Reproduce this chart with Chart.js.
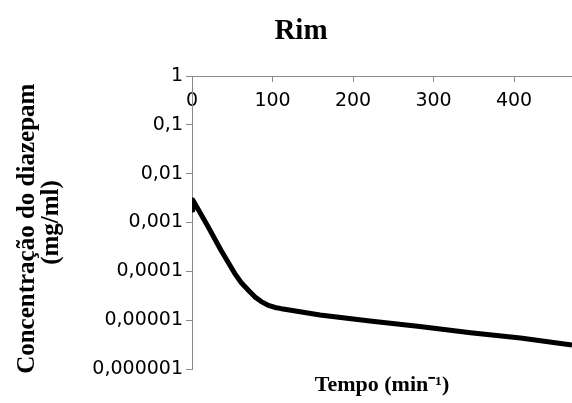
<!DOCTYPE html>
<html>
<head>
<meta charset="utf-8">
<title>Rim</title>
<script src="https://cdn.jsdelivr.net/npm/chart.js@4"></script>
<style>
  html, body { margin: 0; padding: 0; background: #fff; }
  canvas { display: block; }
</style>
</head>
<body>
<canvas id="chart" width="572" height="403"></canvas>
<script>
// Data
const tempo = [0, 1, 20, 36, 53, 61, 70, 78, 86, 94, 103, 111, 119, 159, 221, 283, 346, 408, 472];
const concentracao = [0.0018, 0.0029, 0.00082, 0.00027, 0.000091, 0.000059, 0.000041, 0.000030,
  0.000024, 0.0000204, 0.0000182, 0.0000172, 0.0000164, 0.0000128, 0.0000096, 0.0000074,
  0.0000055, 0.0000043, 0.0000031];
const xTickValues = [0, 100, 200, 300, 400];
const yTickValues = [0.000001, 0.00001, 0.0001, 0.001, 0.01, 0.1, 1];
const yTickLabels = ['0,000001', '0,00001', '0,0001', '0,001', '0,01', '0,1', '1'];

const serif = "'Liberation Serif', 'Times New Roman', serif";
const sans = "'DejaVu Sans', Arial, sans-serif";
const axisGray = '#898989';

const points = tempo.map((t, i) => ({x: t, y: concentracao[i]}));

const ctx = document.getElementById('chart').getContext('2d');
new Chart(ctx, {
  type: 'line',
  data: {
    datasets: [{
      data: points,
      borderColor: '#000',
      borderWidth: 5,
      borderJoinStyle: 'round',
      pointRadius: 0,
      fill: false,
      tension: 0
    }]
  },
  options: {
    responsive: false,
    animation: false,
    layout: {padding: {left: 30, right: 0, top: 0, bottom: 0}},
    plugins: {
      legend: {display: false},
      tooltip: {enabled: false},
      title: {
        display: true,
        text: 'Rim',
        color: '#000',
        font: {family: serif, size: 29, weight: 'bold', lineHeight: 1.2},
        padding: {top: 14, bottom: 0}
      }
    },
    scales: {
      x: {
        type: 'linear',
        position: 'top',
        min: 0,
        max: 472,
        afterBuildTicks: s => { s.ticks = xTickValues.map(v => ({value: v})); },
        afterFit: s => { s.height = 27.2; },
        grid: {drawOnChartArea: false, tickLength: -6, color: axisGray},
        border: {color: axisGray},
        ticks: {
          mirror: true,
          padding: 13.5,
          autoSkip: false,
          maxRotation: 0,
          color: '#000',
          font: {family: sans, size: 19}
        }
      },
      x2: {
        type: 'linear',
        position: 'bottom',
        min: 0,
        max: 472,
        afterFit: s => { s.height = 34; },
        grid: {display: false},
        border: {display: false},
        ticks: {display: false},
        title: {
          display: true,
          text: 'Tempo (min\u207B\u00B9)',
          color: '#000',
          font: {family: serif, size: 22, weight: 'bold', lineHeight: 1.2},
          padding: {top: 0, bottom: 4.5}
        }
      },
      y: {
        type: 'logarithmic',
        min: 0.000001,
        max: 1,
        afterBuildTicks: s => { s.ticks = yTickValues.map(v => ({value: v})); },
        afterFit: s => { s.width = 162; },
        grid: {drawOnChartArea: false, tickLength: 6, color: axisGray},
        border: {color: axisGray},
        ticks: {
          padding: 3,
          autoSkip: false,
          color: '#000',
          font: {family: sans, size: 19},
          callback: (v, i) => yTickLabels[i]
        },
        title: {
          display: true,
          text: ['Concentração do diazepam  ', '(mg/ml)'],
          color: '#000',
          font: {family: serif, size: 25, weight: 'bold', lineHeight: 0.98},
          padding: {top: -14.75, bottom: 0}
        }
      }
    }
  }
});
</script>
</body>
</html>
